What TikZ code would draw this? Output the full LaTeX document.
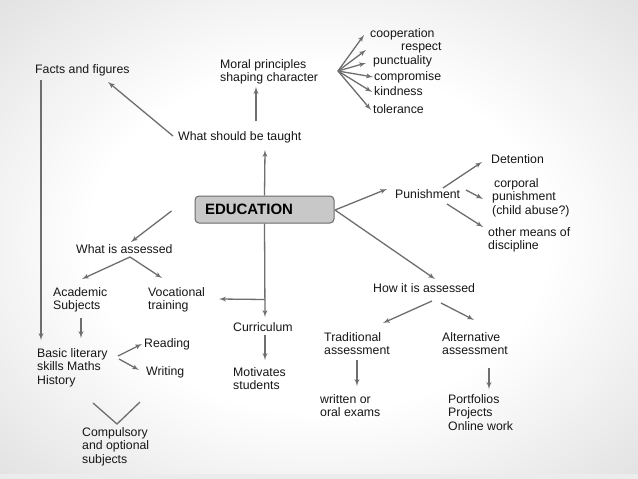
\documentclass[tikz,border=0pt]{standalone}
\usepackage{fontspec}
\setmainfont{Liberation Sans}
\usepackage{xcolor}
\usepackage{tikz}
\usetikzlibrary{shapes, arrows}

\definecolor{linegray}{HTML}{6E6E6E}
\definecolor{boxgray}{HTML}{C8C8C8}
\definecolor{boxline}{HTML}{6A6A6A}
\definecolor{textgray}{HTML}{161616}
\pgfdeclareradialshading{slidebg}{\pgfpoint{0bp}{0bp}}{color(0bp)=(white); color(18bp)=(white); color(50bp)=(gray!42); color(72bp)=(gray!55)}

\begin{document}
\begin{tikzpicture}[x=1pt,y=-1pt,>=latex',
      main node/.style={rectangle,rounded corners=4pt,draw=boxline,fill=boxgray,line width=1pt,
         text width=119pt,inner xsep=10pt,inner ysep=0pt,minimum height=27pt,align=left,
         font=\fontsize{15}{17}\selectfont\bfseries},
      text node/.style={anchor=base west,inner sep=0pt,align=left,text=textgray,
         font=\fontsize{12.3}{13.8}\selectfont},
      link/.style={->,color=linegray,line width=1.3pt},
      plain link/.style={-,color=linegray,line width=1.3pt}]

    % background of the slide
    \useasboundingbox (0,0) rectangle (638,479);
    \shade[shading=slidebg] (0,0) rectangle (638,479);
    \fill[gray!15] (0,474) rectangle (638,479);

    \node[main node] (edu) at (264.5,209.5) {EDUCATION};

    % upper half (multi-line nodes sit on their last line)
    \node[text node] (taught) at (178,140) {What should be taught};
    \node[text node] (facts) at (35,73) {Facts and figures};
    \node[text node] (moral) at (220,81.8) {Moral principles\\shaping character};
    \node[text node] (coop) at (370,37) {cooperation};
    \node[text node] (respect) at (401,50) {respect};
    \node[text node] (punct) at (373,64.5) {punctuality};
    \node[text node] (comp) at (374,80) {compromise};
    \node[text node] (kind) at (374,95) {kindness};
    \node[text node] (toler) at (373,113) {tolerance};

    % left half
    \node[text node] (whatis) at (76,253) {What is assessed};
    \node[text node] (academic) at (53,309.8) {Academic\\Subjects};
    \node[text node] (vocat) at (148,309.8) {Vocational\\training};
    \node[text node] (basic) at (37,384.6) {Basic literary\\skills Maths\\History};
    \node[text node] (reading) at (144,347) {Reading};
    \node[text node] (writing) at (146,375) {Writing};
    \node[text node] (compul) at (82,463.6) {Compulsory\\and optional\\subjects};
    \node[text node] (curric) at (233,331) {Curriculum};
    \node[text node] (motiv) at (233,389.8) {Motivates\\students};

    % right half
    \node[text node] (punish) at (395,198) {Punishment};
    \node[text node] (deten) at (491,163) {Detention};
    \node[text node] (corp) at (492,214.6) {\hspace*{2pt}corporal\\punishment\\(child abuse?)};
    \node[text node] (other) at (488,249.8) {other means of\\discipline};
    \node[text node] (howit) at (373,292) {How it is assessed};
    \node[text node] (trad) at (324,354.8) {Traditional\\assessment};
    \node[text node] (alter) at (442,354.8) {Alternative\\assessment};
    \node[text node] (written) at (320,416.8) {written or\\oral exams};
    \node[text node] (portf) at (448,430.6) {Portfolios\\Projects\\Online work};

    \coordinate (fan) at ([shift={(118,-10.8)}]moral.base west);
    \coordinate (branch) at ([shift={(0.5,76)}]edu.south);
    \coordinate (vleft) at ([shift={(11,-60.6)}]compul.base west);
    \coordinate (vright) at ([shift={(58,-61.6)}]compul.base west);

    \path[link]
        (edu.north) edge ([shift={(87,10)}]taught.base west)
        ([shift={(78,-19)}]taught.base west) edge ([shift={(36,5.2)}]moral.base west)
        ([shift={(-5,-4)}]taught.base west) edge ([shift={(73,9)}]facts.base west)
        ([shift={(6,7)}]facts.base west) edge ([shift={(4,-44.6)}]basic.base west)
        (fan) edge ([shift={(-6,-2)}]coop.base west)
        (fan) edge ([shift={(-35,0)}]respect.base west)
        (fan) edge ([shift={(-7,-1.5)}]punct.base west)
        (fan) edge ([shift={(-1,-3)}]comp.base west)
        (fan) edge ([shift={(-2,-3)}]kind.base west)
        (fan) edge ([shift={(-2,-3)}]toler.base west)
    ;

    \path[link]
        ([shift={(-23,1.5)}]edu.west) edge ([shift={(55,-11)}]whatis.base west)
        ([shift={(54,4)}]whatis.base west) edge ([shift={(29,-30.8)}]academic.base west)
        ([shift={(54,4)}]whatis.base west) edge ([shift={(14,-31.8)}]vocat.base west)
        ([shift={(28,8.2)}]academic.base west) edge ([shift={(44,-46.6)}]basic.base west)
        (edu.south) edge ([shift={(32,-14)}]curric.base west)
        (branch) edge ([shift={(71,-10.8)}]vocat.base west)
        ([shift={(32,4)}]curric.base west) edge ([shift={(32,-29.8)}]motiv.base west)
        ([shift={(81,-28.6)}]basic.base west) edge ([shift={(-2,-3)}]reading.base west)
        ([shift={(82,-25.6)}]basic.base west) edge ([shift={(-7,-5)}]writing.base west)
    ;
    \draw[plain link] (vleft) -- ([shift={(35,-39.6)}]compul.base west) -- (vright);

    \path[link]
        ([shift={(0.5,0.5)}]edu.east) edge ([shift={(-8,-9)}]punish.base west)
        ([shift={(0.5,0.5)}]edu.east) edge ([shift={(62,-13)}]howit.base west)
        ([shift={(48,-10)}]punish.base west) edge ([shift={(-9,-1)}]deten.base west)
        ([shift={(71,-8)}]punish.base west) edge ([shift={(-9,-15.6)}]corp.base west)
        ([shift={(52,6)}]punish.base west) edge ([shift={(-5,-22.8)}]other.base west)
        ([shift={(59,9)}]howit.base west) edge ([shift={(59,-31.8)}]trad.base west)
        ([shift={(68,11)}]howit.base west) edge ([shift={(32,-34.8)}]alter.base west)
        ([shift={(33,5.2)}]trad.base west) edge ([shift={(37,-30.8)}]written.base west)
        ([shift={(47,13.2)}]alter.base west) edge ([shift={(41,-41.6)}]portf.base west)
    ;
\end{tikzpicture}
\end{document}
